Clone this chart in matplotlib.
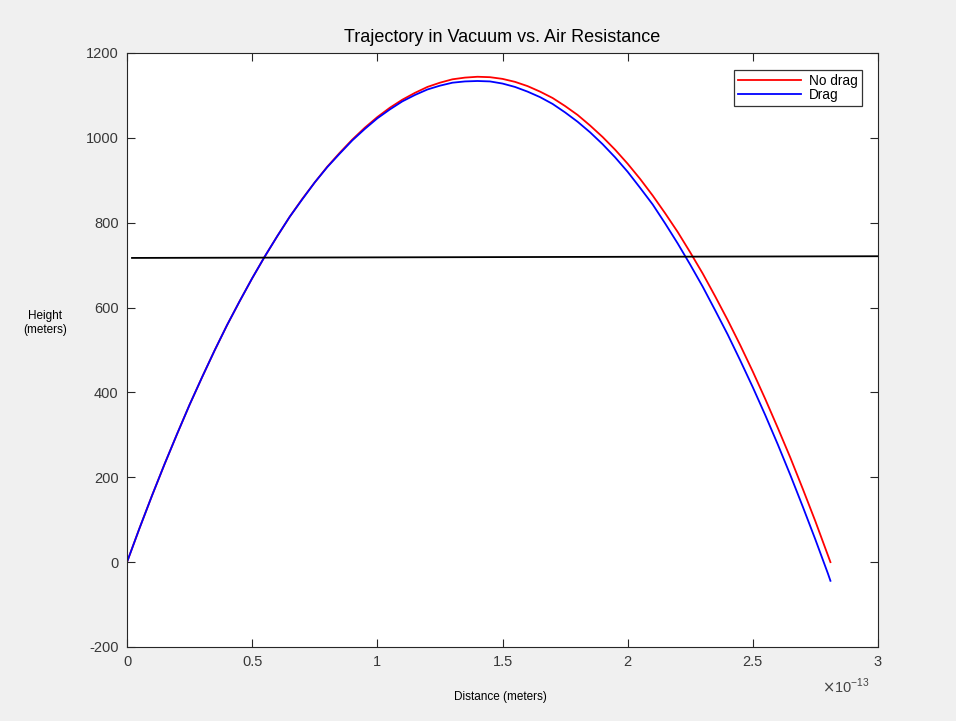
import matplotlib
matplotlib.use('Agg')
import matplotlib.pyplot as plt
import numpy as np

# Distance in units of 1e-13 m, heights in meters
dist = [0, 0.05, 0.1, 0.15, 0.2, 0.25, 0.3, 0.35, 0.4, 0.45, 0.5, 0.55, 0.6, 0.65,
        0.7, 0.75, 0.8, 0.85, 0.9, 0.95, 1.0, 1.05, 1.1, 1.15, 1.2, 1.25, 1.3, 1.35,
        1.4, 1.45, 1.5, 1.55, 1.6, 1.65, 1.7, 1.75, 1.8, 1.85, 1.9, 1.95, 2.0, 2.05,
        2.1, 2.15, 2.2, 2.25, 2.3, 2.35, 2.4, 2.45, 2.5, 2.55, 2.6, 2.65, 2.7, 2.75,
        2.8, 2.81]
h_nodrag = [0, 80, 157, 231, 302, 371, 436, 499, 559, 615, 669, 720, 768, 814,
            856, 895, 932, 965, 996, 1024, 1049, 1071, 1090, 1106, 1120, 1130, 1138, 1142,
            1144, 1143, 1139, 1132, 1122, 1109, 1094, 1075, 1054, 1029, 1002, 972, 939, 903,
            864, 822, 778, 730, 680, 626, 570, 511, 449, 384, 316, 246, 172, 96,
            16, 0]
h_drag = [0, 80, 157, 231, 302, 371, 436, 499, 559, 615, 669, 720, 768, 814,
          855, 895, 931, 963, 994, 1021, 1046, 1067, 1086, 1101, 1114, 1123, 1130, 1133,
          1134, 1133, 1128, 1120, 1109, 1096, 1080, 1060, 1038, 1013, 985, 954, 920, 882,
          843, 798, 751, 701, 649, 593, 536, 475, 412, 346, 277, 205, 130, 53,
          -27, -44]
line_x = [0.02, 3.0]
line_y = [717, 721]

plt.rcParams['font.family'] = ['Liberation Sans', 'DejaVu Sans']
plt.rcParams['axes.unicode_minus'] = False

fig = plt.figure(figsize=(9.56, 7.21), dpi=100, facecolor='#f0f0f0')
ax = fig.add_axes([127/956, 1 - 647/721, (878 - 127)/956, (647 - 53)/721])

x = np.array(dist) * 1e-13
ax.plot(x, h_nodrag, color='#ff0000', lw=1.3, label='No drag')
ax.plot(x, h_drag, color='#0000ff', lw=1.3, label='Drag')
ax.plot(np.array(line_x) * 1e-13, line_y, color='black', lw=1.3)

ax.set_xlim(0, 3e-13)
ax.set_ylim(-200, 1200)
xt = [0, 0.5, 1, 1.5, 2, 2.5, 3]
ax.set_xticks(np.array(xt) * 1e-13)
ax.set_xticklabels(['0', '0.5', '1', '1.5', '2', '2.5', '3'])
ax.set_yticks(range(-200, 1201, 200))
ax.tick_params(direction='in', top=True, right=True, length=6, width=0.8,
               labelsize=10.5, labelcolor='#383838', color='#262626', pad=6)
for s in ax.spines.values():
    s.set_color('#262626')
    s.set_linewidth(0.8)

ax.set_title('Trajectory in Vacuum vs. Air Resistance', fontsize=13, pad=8)
fig.text(45/956, 1 - 323/721, 'Height\n(meters)', ha='center', va='center', fontsize=8.5)
fig.text(500/956, 1 - 697/721, 'Distance (meters)', ha='center', va='center', fontsize=8.5)
fig.text(822/956, 1 - 686/721, r'$\times$10$^{\mathregular{-13}}$', ha='left', va='center',
         fontsize=10.5, color='#444444')

leg = ax.legend(loc='upper right', bbox_to_anchor=((862 - 127)/751, 1 - 17/594),
                fontsize=9.8, frameon=True, fancybox=False, edgecolor='black',
                handlelength=4.6, labelspacing=0.0, borderpad=0.3, handletextpad=0.6,
                borderaxespad=0)
leg.get_frame().set_linewidth(0.9)

fig.savefig('out.png', dpi=100, facecolor=fig.get_facecolor())
